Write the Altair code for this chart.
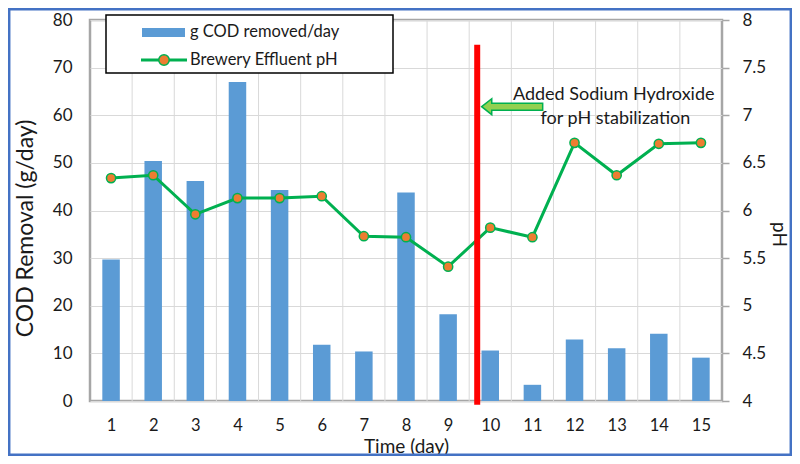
import altair as alt
import pandas as pd

# ---- data ----
days = list(range(1, 16))
cod_removed = [29.7, 50.4, 46.2, 67.0, 44.3, 11.8, 10.4, 43.8, 18.2, 10.6, 3.4, 12.9, 11.1, 14.1, 9.1]
effluent_ph = [6.34, 6.37, 5.96, 6.13, 6.13, 6.15, 5.73, 5.72, 5.41, 5.82, 5.72, 6.71, 6.37, 6.70, 6.71]
series_names = ["g COD removed/day", "Brewery Effluent pH"]
cod_ticks = [0, 10, 20, 30, 40, 50, 60, 70, 80]
ph_ticks = [4, 4.5, 5, 5.5, 6, 6.5, 7, 7.5, 8]
naoh_day = [9.69]
naoh_ph_low = [3.96]
naoh_ph_high = [7.74]
arrow_day = [10.52]
arrow_ph = [7.09]
note_lines = ["Added Sodium Hydroxide", "for pH stabilization"]
note_day = [12.93, 12.97]
note_ph = [7.16, 6.91]

FONT = "Lato"
TXT = "#1a1a1a"
BLUE = "#5b9bd5"
GREEN = "#00b050"
ORANGE = "#ed7d31"

bars_df = pd.DataFrame({"day": days, "cod": cod_removed})
ph_df = pd.DataFrame({"day": days, "ph": effluent_ph})
grid_df = pd.DataFrame({"day": [d + 0.5 for d in days[:-1]]})
naoh_df = pd.DataFrame({"day": naoh_day, "ph": naoh_ph_low, "ph2": naoh_ph_high})
arrow_df = pd.DataFrame({"day": arrow_day, "ph": arrow_ph})
note_df = pd.DataFrame({"day": note_day, "ph": note_ph, "text": note_lines})
one = pd.DataFrame({"k": [0]})

x_axis = alt.Axis(values=days, title="Time (day)", grid=False, ticks=False, tickSize=0,
                  domain=False, labelPadding=24, labelBaseline="middle",
                  labelFont=FONT, labelFontSize=16.5, labelColor=TXT,
                  titleFont=FONT, titleFontSize=19, titleFontWeight="normal", titleColor=TXT,
                  titleY=51, titleBaseline="alphabetic")
X = alt.X("day:Q", scale=alt.Scale(domain=[0.5, 15.5], nice=False, zero=False, padding=0),
          axis=x_axis)

cod_axis = alt.Axis(values=cod_ticks, format="d", title="COD Removal (g/day)", grid=True,
                    gridColor="#d9d9d9", gridWidth=1, domain=False, ticks=False, tickSize=0,
                    labelPadding=18, labelFont=FONT, labelFontSize=17, labelColor=TXT,
                    titleFont=FONT, titleFontSize=23, titleFontWeight="normal", titleColor=TXT,
                    titleAngle=270, titleX=-65, titleY=208, titleAlign="center", titleBaseline="middle")
ph_axis = alt.Axis(orient="right", values=ph_ticks, format="~g", title="pH", grid=False,
                   domain=False, ticks=True, tickSize=7, tickColor="#a6a6a6", tickWidth=1.5,
                   labelPadding=13, labelFont=FONT, labelFontSize=17, labelColor=TXT,
                   titleFont=FONT, titleFontSize=19, titleFontWeight="normal", titleColor=TXT,
                   titleAngle=90, titleX=56, titleY=214, titleAlign="center", titleBaseline="middle")
ph_scale = alt.Scale(domain=[4, 8], nice=False, zero=False)

grid = alt.Chart(grid_df).mark_rule(color="#d9d9d9", strokeWidth=1).encode(x=X)
bars = alt.Chart(bars_df).mark_bar(width=17.5, color=BLUE).encode(
    x=X, y=alt.Y("cod:Q", scale=alt.Scale(domain=[0, 80], nice=False), axis=cod_axis))

Y = alt.Y("ph:Q", scale=ph_scale, axis=ph_axis)
line = alt.Chart(ph_df).mark_line(strokeWidth=3, color=GREEN).encode(x=X, y=Y)
points = alt.Chart(ph_df).mark_circle(size=85, color=ORANGE, stroke=GREEN, strokeWidth=1.5,
                                      opacity=1).encode(x=X, y=Y)
naoh = alt.Chart(naoh_df).mark_rule(color="#ff0000", strokeWidth=6).encode(x=X, y=Y, y2="ph2:Q")
arrow_path = "M-1,0L-0.67,-0.26L-0.67,-0.115L1,-0.115L1,0.115L-0.67,0.115L-0.67,0.26Z"
arrow = alt.Chart(arrow_df).mark_point(shape=arrow_path, size=3721, filled=True, fill="#92d050",
                                       stroke=GREEN, strokeWidth=1.5, opacity=1).encode(x=X, y=Y)
note = alt.Chart(note_df).mark_text(font=FONT, fontSize=18, color=TXT, align="center",
                                    baseline="alphabetic").encode(x=X, y=Y, text="text:N")

# ---- legend box (decoration) ----
leg_box = alt.Chart(one).mark_rect(fill="white", stroke="black", strokeWidth=1.5).encode(
    x=alt.value(16), x2=alt.value(303), y=alt.value(-5), y2=alt.value(53))
leg_bar = alt.Chart(one).mark_rect(fill=BLUE).encode(
    x=alt.value(52), x2=alt.value(95), y=alt.value(8), y2=alt.value(17))
leg_line = alt.Chart(one).mark_rule(color=GREEN, strokeWidth=3).encode(
    x=alt.value(51), x2=alt.value(97), y=alt.value(40))
leg_dot = alt.Chart(one).mark_circle(size=110, color=ORANGE, stroke=GREEN, strokeWidth=1.5,
                                     opacity=1).encode(x=alt.value(74), y=alt.value(40))
leg_t1 = alt.Chart(one).mark_text(text=series_names[0], font=FONT, fontSize=16.5, color=TXT,
                                  align="left", baseline="middle").encode(x=alt.value(100), y=alt.value(12))
leg_t2 = alt.Chart(one).mark_text(text=series_names[1], font=FONT, fontSize=16.5, color=TXT,
                                  align="left", baseline="middle").encode(x=alt.value(100), y=alt.value(40))
frame = alt.Chart(one).mark_rect(fill=None, stroke="#4472c4", strokeWidth=2.5).encode(
    x=alt.value(-80.8), x2=alt.value(700.8), y=alt.value(-10.8), y2=alt.value(434.8))

left = alt.layer(grid, bars)
right = alt.layer(line, points, naoh, arrow, note, leg_box, leg_bar, leg_line, leg_dot,
                  leg_t1, leg_t2, frame)

chart = alt.layer(left, right).resolve_scale(y="independent").properties(
    width=632, height=381,
    padding={"left": 82, "top": 12, "right": 70, "bottom": 55},
    autosize=alt.AutoSizeParams(type="none"),
    background="white",
).configure_view(stroke="#a6a6a6", strokeWidth=2.5)

chart.save("out.html", embed_options={"renderer": "svg", "actions": False})
